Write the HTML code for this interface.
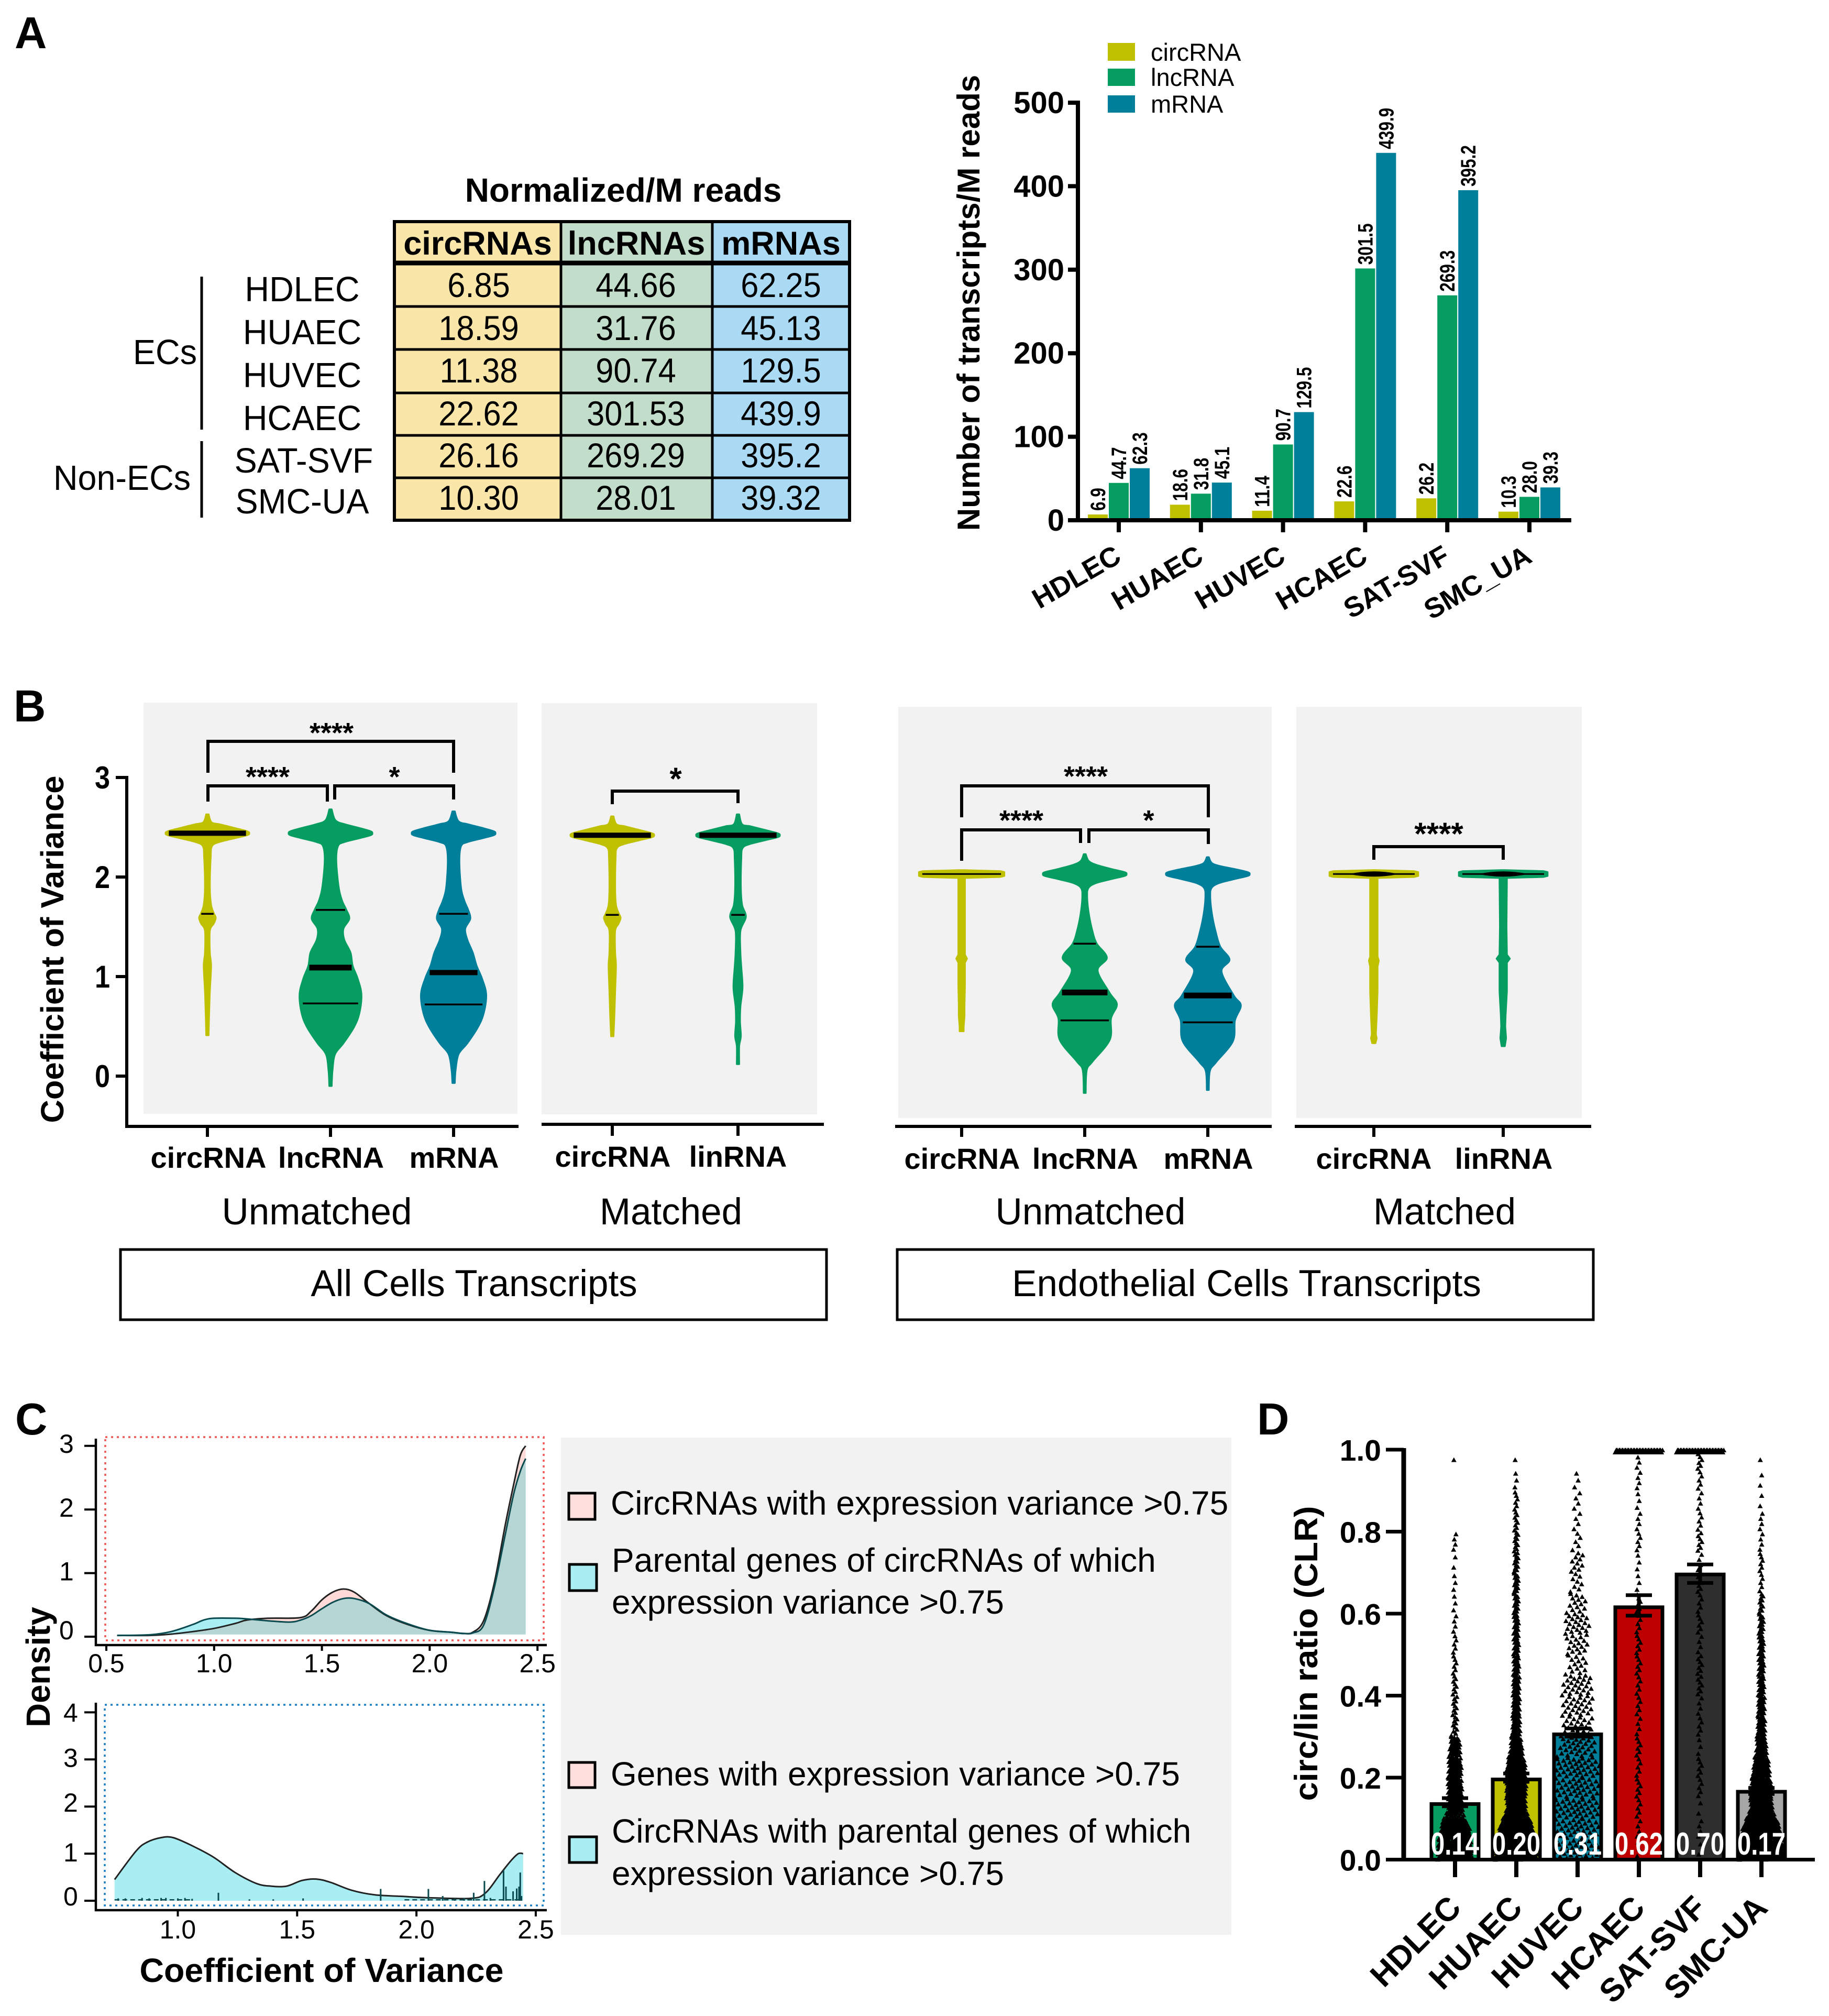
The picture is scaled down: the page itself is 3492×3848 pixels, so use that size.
<!DOCTYPE html>
<html>
<head>
<meta charset="utf-8">
<title>circRNA expression figure</title>
<style>
html,body{margin:0;padding:0;background:#fff;}
svg{display:block;}
text{font-family:"Liberation Sans",Arial,sans-serif;fill:#000;}
.b{font-weight:bold;}
.m{text-anchor:middle;}
.sq{transform-box:fill-box;transform-origin:center;transform:scaleX(.93);}
.sq2{transform-box:fill-box;transform-origin:center;transform:scaleX(.965);}
.v{font-size:66px;}
.l{font-size:67px;}
.h{font-size:63px;font-weight:bold;text-anchor:middle;}
.c{font-size:56px;font-weight:bold;text-anchor:middle;}
.g{font-size:71px;text-anchor:middle;}
.s{font-size:64px;}
.p{font-size:85px;font-weight:bold;}
.star{font-size:54px;font-weight:bold;text-anchor:middle;}
.star2{font-size:60px;font-weight:bold;text-anchor:middle;}
</style>
</head>
<body>
<svg id="fig" xmlns="http://www.w3.org/2000/svg" width="3492" height="3848" viewBox="0 0 3492 3848">
<rect x="0" y="0" width="3492" height="3848" fill="#fff"/>

<text class="p" x="28" y="92">A</text>
<text class="p" x="26" y="1377">B</text>
<text class="p" x="29" y="2738">C</text>
<text class="p" x="2400" y="2738">D</text>

<!-- Panel A table -->
<g>
<text class="b m" x="1190" y="385" font-size="64">Normalized/M reads</text>
<rect x="753" y="423" width="318" height="570" fill="#FAE6A8"/>
<rect x="1071" y="423" width="289" height="570" fill="#C3DDCB"/>
<rect x="1360" y="423" width="262" height="570" fill="#ABDAF4"/>
<path d="M753 585H1622M753 667H1622M753 750H1622M753 831H1622M753 912H1622" stroke="#000" stroke-width="5" fill="none"/>
<path d="M753 502H1622" stroke="#000" stroke-width="9" fill="none"/>
<path d="M1071 423V993M1360 423V993" stroke="#000" stroke-width="5" fill="none"/>
<rect x="753" y="423" width="869" height="570" fill="none" stroke="#000" stroke-width="6"/>
<text class="h" x="912" y="486">circRNAs</text>
<text class="h" x="1215" y="486">lncRNAs</text>
<text class="h" x="1491" y="486">mRNAs</text>

<text class="l m sq2" x="577" y="575">HDLEC</text>
<text class="l m sq2" x="577" y="657">HUAEC</text>
<text class="l m sq2" x="577" y="739">HUVEC</text>
<text class="l m sq2" x="577" y="821">HCAEC</text>
<text class="l m sq2" x="580" y="902">SAT-SVF</text>
<text class="l m sq2" x="577" y="980">SMC-UA</text>
<text class="l m sq2" x="315" y="695">ECs</text>
<text class="l m sq2" x="233" y="935">Non-ECs</text>
<path d="M385 528V820M385 842V988" stroke="#000" stroke-width="5" fill="none"/>

<text class="v m sq" x="914" y="567">6.85</text>
<text class="v m sq" x="1214" y="567">44.66</text>
<text class="v m sq" x="1491" y="567">62.25</text>
<text class="v m sq" x="914" y="649">18.59</text>
<text class="v m sq" x="1214" y="649">31.76</text>
<text class="v m sq" x="1491" y="649">45.13</text>
<text class="v m sq" x="914" y="730">11.38</text>
<text class="v m sq" x="1214" y="730">90.74</text>
<text class="v m sq" x="1491" y="730">129.5</text>
<text class="v m sq" x="914" y="812">22.62</text>
<text class="v m sq" x="1214" y="812">301.53</text>
<text class="v m sq" x="1491" y="812">439.9</text>
<text class="v m sq" x="914" y="892">26.16</text>
<text class="v m sq" x="1214" y="892">269.29</text>
<text class="v m sq" x="1491" y="892">395.2</text>
<text class="v m sq" x="914" y="973">10.30</text>
<text class="v m sq" x="1214" y="973">28.01</text>
<text class="v m sq" x="1491" y="973">39.32</text>
</g>

<!-- Panel A chart static -->
<g>
<rect x="2115" y="82" width="52" height="34" fill="#BFC000"/>
<rect x="2115" y="131" width="52" height="33" fill="#069D60"/>
<rect x="2115" y="182" width="52" height="33" fill="#007F9B"/>
<text x="2197" y="116" font-size="47">circRNA</text>
<text x="2197" y="164" font-size="47">lncRNA</text>
<text x="2197" y="215" font-size="47">mRNA</text>
</g>
<text class="b m" transform="translate(1870,578) rotate(-90)" font-size="60">Number of transcripts/M reads</text>

<!-- Panel B static -->
<rect x="274" y="1341" width="714" height="785" fill="#F2F2F2"/>
<rect x="1034" y="1342" width="526" height="785" fill="#F2F2F2"/>
<rect x="1715" y="1349" width="713" height="785" fill="#F2F2F2"/>
<rect x="2475" y="1349" width="545" height="785" fill="#F2F2F2"/>

<text class="b m" transform="translate(121,1812) rotate(-90)" font-size="61.5">Coefficient of Variance</text>

<g id="bracket-layer" fill="none" stroke="#000" stroke-width="6">
<path d="M397 1475V1415H866V1475"/>
<path d="M397 1530V1500H625V1530"/>
<path d="M639 1526V1500H866V1526"/>
<path d="M1169 1535V1510H1409V1533"/>
<path d="M1836 1560V1500H2307V1560"/>
<path d="M1836 1643V1584H2063V1609"/>
<path d="M2079 1609V1584H2307V1611"/>
<path d="M2623 1641V1616H2870V1641"/>
</g>
<text class="star" x="633" y="1417">****</text>
<text class="star" x="511" y="1501">****</text>
<text class="star" x="753" y="1501">*</text>
<text class="star2" x="1290" y="1507">*</text>
<text class="star" x="2073" y="1500">****</text>
<text class="star" x="1950" y="1584">****</text>
<text class="star" x="2193" y="1584">*</text>
<text class="star2" x="2747" y="1612">****</text>

<text class="c" x="398" y="2229">circRNA</text>
<text class="c" x="632" y="2229">lncRNA</text>
<text class="c" x="867" y="2229">mRNA</text>
<text class="c" x="1170" y="2227">circRNA</text>
<text class="c" x="1409" y="2227">linRNA</text>
<text class="c" x="1837" y="2231">circRNA</text>
<text class="c" x="2072" y="2231">lncRNA</text>
<text class="c" x="2307" y="2231">mRNA</text>
<text class="c" x="2623" y="2231">circRNA</text>
<text class="c" x="2871" y="2231">linRNA</text>

<text class="g" x="605" y="2337">Unmatched</text>
<text class="g" x="1281" y="2337">Matched</text>
<text class="g" x="2082" y="2337">Unmatched</text>
<text class="g" x="2758" y="2337">Matched</text>

<rect x="230" y="2385" width="1348" height="134" fill="none" stroke="#000" stroke-width="5"/>
<text class="g" x="905" y="2474">All Cells Transcripts</text>
<rect x="1713" y="2385" width="1329" height="134" fill="none" stroke="#000" stroke-width="5"/>
<text class="g" x="2380" y="2474">Endothelial Cells Transcripts</text>

<!-- Panel C legend -->
<rect x="1071" y="2744" width="1280" height="949" fill="#F2F2F2"/>
<rect x="1086" y="2850" width="50" height="50" fill="#FFDFDC" stroke="#000" stroke-width="5"/>
<rect x="1087" y="2986" width="52" height="50" fill="#A8EEF2" stroke="#000" stroke-width="5"/>
<rect x="1086" y="3364" width="50" height="48" fill="#FFDFDC" stroke="#000" stroke-width="5"/>
<rect x="1087" y="3506" width="52" height="49" fill="#A8EEF2" stroke="#000" stroke-width="5"/>
<text class="s" x="1166" y="2891">CircRNAs with expression variance &gt;0.75</text>
<text class="s" x="1168" y="3000">Parental genes of circRNAs of which</text>
<text class="s" x="1168" y="3080">expression variance &gt;0.75</text>
<text class="s" x="1166" y="3408">Genes with expression variance &gt;0.75</text>
<text class="s" x="1168" y="3517">CircRNAs with parental genes of which</text>
<text class="s" x="1168" y="3598">expression variance &gt;0.75</text>

<text class="b m" transform="translate(95,3182) rotate(-90)" font-size="63.6">Density</text>
<text class="b m" x="614" y="3783" font-size="64" textLength="695" lengthAdjust="spacingAndGlyphs">Coefficient of Variance</text>
<rect x="201" y="2743" width="837" height="388" fill="none" stroke="#F55555" stroke-width="3.5" stroke-dasharray="4 7"/>
<rect x="200" y="3254" width="838" height="383" fill="none" stroke="#1B7FC4" stroke-width="3.5" stroke-dasharray="4 7"/>

<text class="b m" transform="translate(2515,3156) rotate(-90)" font-size="62" textLength="563" lengthAdjust="spacingAndGlyphs">circ/lin ratio (CLR)</text>

<g id="marks"></g>
</svg>

<script>
/* ---------- Panel A: grouped bars ---------- */
const barCategories = ["HDLEC","HUAEC","HUVEC","HCAEC","SAT-SVF","SMC_UA"];
const barCirc = [6.9,18.6,11.4,22.6,26.2,10.3];
const barLnc = [44.7,31.8,90.7,301.5,269.3,28.0];
const barMrna = [62.3,45.1,129.5,439.9,395.2,39.3];
const barTicks = [0,100,200,300,400,500];

/* ---------- Panel B: violins (CV level, relative density) ---------- */
const cvTicks = [0,1,2,3];
const levelsAllCirc = [2.63,2.55,2.53,2.49,2.46,2.44,2.42,2.39,2.35,2.31,2.2,1.89,1.72,1.64,1.59,1.53,1.46,1.24,1.11,0.85,0.59,0.41];
const densityAllCirc = [0.03,0.1,0.3,0.68,0.95,1,0.95,0.66,0.28,0.11,0.08,0.06,0.09,0.15,0.2,0.15,0.06,0.06,0.09,0.06,0.04,0.03];
const quartilesAllCirc = [1.63,2.44];
const levelsAllLnc = [2.68,2.57,2.53,2.49,2.46,2.44,2.42,2.39,2.35,2.31,2.16,1.89,1.76,1.67,1.58,1.48,1.37,1.24,1.11,0.98,0.82,0.63,0.49,0.33,0.22,0.06,-0.1];
const densityAllLnc = [0.03,0.12,0.35,0.72,0.96,1,0.96,0.7,0.33,0.18,0.14,0.2,0.28,0.38,0.45,0.31,0.33,0.48,0.53,0.65,0.74,0.69,0.56,0.31,0.11,0.05,0.03];
const quartilesAllLnc = [1.67,1.09,0.73];
const levelsAllM = [2.66,2.56,2.53,2.49,2.46,2.44,2.42,2.39,2.35,2.31,2.16,1.89,1.76,1.67,1.58,1.48,1.37,1.24,1.11,0.98,0.82,0.63,0.49,0.33,0.22,0.06,-0.07];
const densityAllM = [0.03,0.12,0.35,0.72,0.96,1,0.96,0.7,0.33,0.18,0.14,0.18,0.26,0.35,0.4,0.28,0.33,0.46,0.55,0.68,0.78,0.72,0.58,0.33,0.12,0.05,0.03];
const quartilesAllM = [1.63,1.04,0.72];
const levelsMatchedCirc = [2.61,2.53,2.51,2.47,2.44,2.42,2.4,2.37,2.33,2.29,2.18,1.89,1.72,1.64,1.59,1.53,1.46,1.24,1.11,0.85,0.59,0.4];
const densityMatchedCirc = [0.03,0.1,0.3,0.68,0.95,1,0.95,0.66,0.28,0.11,0.08,0.07,0.09,0.15,0.2,0.15,0.07,0.07,0.09,0.07,0.05,0.03];
const quartilesMatchedCirc = [1.62,2.42];
const levelsMatchedLin = [2.63,2.53,2.51,2.47,2.44,2.42,2.4,2.37,2.33,2.29,2.18,1.89,1.72,1.6,1.46,1.24,1.1,0.89,0.7,0.55,0.4,0.3,0.12];
const densityMatchedLin = [0.03,0.1,0.3,0.68,0.95,1,0.95,0.66,0.28,0.11,0.08,0.07,0.1,0.19,0.06,0.06,0.08,0.11,0.06,0.05,0.07,0.03,0.03];
const quartilesMatchedLin = [1.62,2.42];
const levelsEcCirc = [2.07,2.06,2.05,2.01,2.0,1.99,1.5,1.22,1.18,1.14,0.9,0.7,0.6,0.5,0.45];
const densityEcCirc = [0.05,0.92,1.02,1.02,0.92,0.08,0.08,0.08,0.13,0.08,0.08,0.07,0.07,0.05,0.05];
const quartilesEcCirc = [2.03];
const levelsEcLnc = [2.23,2.16,2.12,2.08,2.05,2.03,2.01,1.98,1.94,1.89,1.8,1.63,1.45,1.33,1.19,1.06,0.84,0.72,0.58,0.365,0.147,0.06,-0.17];
const densityEcLnc = [0.025,0.1,0.3,0.65,0.95,1,0.95,0.65,0.28,0.09,0.06,0.1,0.19,0.29,0.53,0.31,0.59,0.77,0.63,0.6,0.19,0.05,0.025];
const quartilesEcLnc = [1.33,0.84,0.56];
const levelsEcM = [2.2,2.14,2.11,2.08,2.05,2.03,2.01,1.98,1.94,1.89,1.8,1.63,1.45,1.3,1.17,1.05,0.81,0.71,0.56,0.35,0.14,0.05,-0.14];
const densityEcM = [0.025,0.1,0.3,0.65,0.95,1,0.95,0.65,0.28,0.09,0.06,0.1,0.19,0.3,0.52,0.33,0.62,0.79,0.65,0.6,0.2,0.05,0.025];
const quartilesEcM = [1.3,0.81,0.54];
const levelsEcMatchedCirc = [2.07,2.06,2.05,2.01,2.0,1.99,1.5,1.2,1.16,1.1,0.85,0.6,0.42,0.38,0.33];
const densityEcMatchedCirc = [0.05,0.96,1.06,1.06,0.96,0.09,0.09,0.09,0.12,0.09,0.09,0.07,0.05,0.07,0.04];
const quartilesEcMatchedCirc = [2.03];
const levelsEcMatchedLin = [2.07,2.06,2.05,2.01,2.0,1.99,1.5,1.22,1.18,1.14,0.85,0.62,0.5,0.38,0.3];
const densityEcMatchedLin = [0.05,0.96,1.06,1.06,0.96,0.09,0.08,0.09,0.16,0.09,0.09,0.06,0.05,0.07,0.04];
const quartilesEcMatchedLin = [2.03];

/* ---------- Panel C: densities ---------- */
const densTopXTicks = ["0.5","1.0","1.5","2.0","2.5"];
const densTopYTicks = [0,1,2,3];
const densBottomXTicks = ["1.0","1.5","2.0","2.5"];
const densBottomYTicks = [0,1,2,3,4];
const cvPink = [0.55,0.7,0.8,0.9,1.0,1.1,1.15,1.25,1.4,1.45,1.5,1.55,1.6,1.65,1.72,1.8,1.9,2.0,2.1,2.16,2.2,2.25,2.3,2.35,2.39,2.42,2.445];
const densPink = [0.02,0.02,0.04,0.08,0.13,0.21,0.26,0.29,0.30,0.40,0.58,0.70,0.75,0.70,0.52,0.33,0.19,0.1,0.07,0.05,0.07,0.25,0.85,1.75,2.4,2.85,3.0];
const cvCyan = [0.55,0.7,0.8,0.9,0.95,1.0,1.1,1.15,1.25,1.35,1.4,1.45,1.5,1.55,1.6,1.65,1.72,1.8,1.9,2.0,2.1,2.16,2.2,2.25,2.3,2.35,2.39,2.42,2.445];
const densCyan = [0.02,0.03,0.08,0.19,0.26,0.29,0.29,0.28,0.25,0.23,0.26,0.33,0.44,0.54,0.6,0.6,0.52,0.34,0.2,0.1,0.07,0.05,0.06,0.18,0.78,1.6,2.25,2.6,2.8];
const cvBottom = [0.735,0.824,0.87,0.93,0.98,1.055,1.148,1.24,1.33,1.39,1.456,1.52,1.58,1.64,1.73,1.826,1.95,2.04,2.226,2.288,2.35,2.396,2.427,2.447];
const densBottom = [0.45,1.05,1.24,1.34,1.34,1.18,0.93,0.6,0.365,0.31,0.31,0.43,0.46,0.39,0.22,0.125,0.09,0.066,0.05,0.16,0.56,0.85,1.0,1.0];
const spikeCv = [0.75,0.78,0.85,0.88,0.93,0.95,1.0,1.03,1.06,1.17,1.3,1.4,1.525,1.85,2.05,2.11,2.16,2.2,2.24,2.285,2.31,2.365,2.375,2.405,2.42,2.43,2.435,2.44];
const spikeDens = [0.05,0.05,0.06,0.05,0.06,0.06,0.05,0.06,0.04,0.17,0.03,0.03,0.05,0.25,0.25,0.1,0.05,0.06,0.17,0.42,0.06,0.65,0.3,0.2,0.26,0.3,0.6,0.1];

/* ---------- Panel D: bars with swarm ---------- */
const ratioCategories = ["HDLEC","HUAEC","HUVEC","HCAEC","SAT-SVF","SMC-UA"];
const ratioMeans = [0.14,0.20,0.31,0.62,0.70,0.17];
const ratioErrLow = [0.13,0.19,0.30,0.595,0.675,0.16];
const ratioErrHigh = [0.15,0.21,0.32,0.645,0.72,0.175];
const ratioTicks = ["0.0","0.2","0.4","0.6","0.8","1.0"];
/* dot counts in 0.05-wide bins from 0 to 1 */
const dotsHdlec = [130,110,50,50,45,35,10,9,8,6,5,4,3,3,2,4,0,0,0,1];
const dotsHuaec = [210,170,90,95,90,50,30,26,24,20,18,16,14,14,12,10,8,6,3,1];
const dotsHuvec = [36,36,38,36,38,30,24,25,25,14,17,21,14,8,10,5,4,4,3,0];
const dotsHcaec = [3,4,5,6,5,6,4,5,5,6,6,5,6,3,3,5,4,3,4,4];
const dotsSatSvf = [2,4,2,5,6,3,5,4,7,7,4,6,5,7,4,7,5,4,5,7];
const dotsSmcUa = [210,180,100,95,70,40,28,24,20,18,16,14,10,5,6,4,4,2,2,1];
const dotsAtOne = [0,0,0,50,50,0];

const NS = "http://www.w3.org/2000/svg";
const root = document.getElementById("marks");
function mk(tag, attrs, text){
  const e = document.createElementNS(NS, tag);
  for (const k in attrs) e.setAttribute(k, attrs[k]);
  if (text !== undefined) e.textContent = text;
  root.appendChild(e);
  return e;
}
function r1(n){ return Math.round(n*10)/10; }
const COL = {circ:"#BFC000", lnc:"#069D60", m:"#007F9B"};
/* Catmull-Rom through screen points; first point uses given command */
function smoothThrough(pts, cmd){
  let d = cmd+r1(pts[0][0])+" "+r1(pts[0][1]);
  for (let i=0;i<pts.length-1;i++){
    const p0=pts[Math.max(0,i-1)], p1=pts[i], p2=pts[i+1], p3=pts[Math.min(pts.length-1,i+2)];
    d+="C"+r1(p1[0]+(p2[0]-p0[0])/6)+" "+r1(p1[1]+(p2[1]-p0[1])/6)+" "+r1(p2[0]-(p3[0]-p1[0])/6)+" "+r1(p2[1]-(p3[1]-p1[1])/6)+" "+r1(p2[0])+" "+r1(p2[1]);
  }
  return d;
}

/* ===== Panel A ===== */
function xA(i){ return 2136 + 156.8*i; }
function yA(v){ return 993 - v*1.594; }
const barSeries = [[barCirc,COL.circ,-40,"circrna"],[barLnc,COL.lnc,0,"lncrna"],[barMrna,COL.m,40,"mrna"]];
barSeries.forEach(function(s){
  s[0].forEach(function(v,i){
    const cx = xA(i)+s[2];
    const bar = mk("rect",{x:cx-19,y:yA(v),width:38,height:yA(0)-yA(v),fill:s[1]});
    
    
    const lab = mk("text",{transform:"translate("+(cx+14)+","+(yA(v)-7)+") rotate(-90) scale(.79,1)","font-size":40,"font-weight":"bold"},v.toFixed(1));
    
    
  });
});
const axisA = mk("path",{d:"M2058 "+(yA(500)-4)+"V"+yA(0)+"M2039 "+yA(0)+"H3000",stroke:"#000","stroke-width":8,fill:"none"});


barTicks.forEach(function(t){
  const tk = mk("path",{d:"M2039 "+yA(t)+"H2058",stroke:"#000","stroke-width":8});
  
  
  const lb = mk("text",{x:2032,y:yA(t)+20,"text-anchor":"end","font-size":58,"font-weight":"bold"},String(t));
  
  
});
barCategories.forEach(function(c,i){
  const tk = mk("path",{d:"M"+xA(i)+" "+yA(0)+"V1016",stroke:"#000","stroke-width":8});
  
  
  const lb = mk("text",{transform:"translate("+(xA(i)+8)+",1071) rotate(-30)","text-anchor":"end","font-size":53.5,"font-weight":"bold"},c);
  
  
});

/* ===== Panel B ===== */
function yB(v){ return 2054 - v*190; }
const VW = 80;
function densAt(levels,density,v){
  for (let i=0;i<levels.length-1;i++){
    if (v<=levels[i] && v>=levels[i+1]){
      const t=(levels[i]-v)/(levels[i]-levels[i+1]);
      return density[i]+(density[i+1]-density[i])*t;
    }
  }
  return 0;
}
function violin(cx,levels,density,quartiles,color,name,medianThick,lens){
  const right=levels.map(function(v,i){ return [cx+density[i]*VW,yB(v)]; });
  const left=levels.map(function(v,i){ return [cx-density[i]*VW,yB(v)]; }).reverse();
  let d;
  if (lens || medianThick[0]===3){
    d="";
    right.forEach(function(p,i){ d+=(i?"L":"M")+r1(p[0])+" "+r1(p[1]); });
    left.forEach(function(p){ d+="L"+r1(p[0])+" "+r1(p[1]); });
  } else {
    d=smoothThrough(right,"M")+smoothThrough(left,"L");
  }
  const shape = mk("path",{d:d+"Z",fill:color,stroke:color,"stroke-width":3,"stroke-linejoin":"round"});
  
  
  quartiles.forEach(function(q,i){
    const hw = densAt(levels,density,q)*VW*0.92;
    const main = q===quartiles[medianThick[1]];
    const ln = mk("path",{d:"M"+r1(cx-hw)+" "+yB(q)+"H"+r1(cx+hw),stroke:"#000","stroke-width":main?medianThick[0]:3.5,fill:"none"});
    
    
  });
  if (lens){
    const y=yB(quartiles[0]);
    const el = mk("path",{d:"M"+(cx-48)+" "+y+"Q"+cx+" "+(y-10)+" "+(cx+48)+" "+y+"Q"+cx+" "+(y+10)+" "+(cx-48)+" "+y+"Z",fill:"#000"});
    
    
  }
}
violin(396,levelsAllCirc,densityAllCirc,quartilesAllCirc,COL.circ,"all-circrna",[10,1]);
violin(631,levelsAllLnc,densityAllLnc,quartilesAllLnc,COL.lnc,"all-lncrna",[11,1]);
violin(866,levelsAllM,densityAllM,quartilesAllM,COL.m,"all-mrna",[10,1]);
violin(1169,levelsMatchedCirc,densityMatchedCirc,quartilesMatchedCirc,COL.circ,"matched-circrna",[10,1]);
violin(1409,levelsMatchedLin,densityMatchedLin,quartilesMatchedLin,COL.lnc,"matched-linrna",[10,1]);
violin(1836,levelsEcCirc,densityEcCirc,quartilesEcCirc,COL.circ,"ec-circrna",[3,0]);
violin(2071,levelsEcLnc,densityEcLnc,quartilesEcLnc,COL.lnc,"ec-lncrna",[11,1]);
violin(2306,levelsEcM,densityEcM,quartilesEcM,COL.m,"ec-mrna",[11,1]);
violin(2623,levelsEcMatchedCirc,densityEcMatchedCirc,quartilesEcMatchedCirc,COL.circ,"ec-matched-circrna",[3,0],true);
violin(2870,levelsEcMatchedLin,densityEcMatchedLin,quartilesEcMatchedLin,COL.lnc,"ec-matched-linrna",[3,0],true);

const axisB = mk("path",{d:"M242 "+(yB(3)-3)+"V2150H990M1034 2146H1573M1709 2150H2428M2472 2150H3038M396 2150V2170M631 2150V2170M866 2150V2170M1169 2146V2168M1409 2146V2168M1836 2150V2170M2071 2150V2170M2306 2150V2170M2623 2150V2170M2870 2150V2170",stroke:"#000","stroke-width":6,fill:"none"});


cvTicks.forEach(function(t){
  const tk = mk("path",{d:"M221 "+yB(t)+"H242",stroke:"#000","stroke-width":6});
  
  
  const lb = mk("text",{transform:"translate(210,"+(yB(t)+21)+") scale(.87,1)","text-anchor":"end","font-size":60,"font-weight":"bold"},String(t));
  
  
});

/* ===== Panel C ===== */
function xC1(v){ return 203 + (v-0.5)*411.6; }
function yC1(d){ return 3124 - d*121.4; }
function xC2(v){ return 339.5 + (v-1)*455.6; }
function yC2(d){ return 3628 - d*89.9; }
function linePath(xs,ys,fx,fy){
  return smoothThrough(xs.map(function(v,i){ return [fx(v),fy(ys[i])]; }),"M");
}
function areaPath(xs,ys,fx,fy,base){
  return linePath(xs,ys,fx,fy)+"L"+r1(fx(xs[xs.length-1]))+" "+r1(fy(base))+"L"+r1(fx(xs[0]))+" "+r1(fy(base))+"Z";
}
const cp = document.createElementNS(NS,"clipPath");
cp.setAttribute("id","pinkClip");
const cpP = document.createElementNS(NS,"path");
cpP.setAttribute("d",areaPath(cvPink,densPink,xC1,yC1,0.035));
cp.appendChild(cpP);
root.appendChild(cp);
const areaPinkEl = mk("path",{d:areaPath(cvPink,densPink,xC1,yC1,0.035),fill:"#FFDAD6"});


const areaCyanEl = mk("path",{d:areaPath(cvCyan,densCyan,xC1,yC1,0.035),fill:"#A8EEF2"});


const overlapEl = mk("path",{d:areaPath(cvCyan,densCyan,xC1,yC1,0.035),fill:"#B5D6D4","clip-path":"url(#pinkClip)"});


const linePinkEl = mk("path",{d:linePath(cvPink,densPink,xC1,yC1),fill:"none",stroke:"#222","stroke-width":3});


const lineCyanEl = mk("path",{d:linePath(cvCyan,densCyan,xC1,yC1),fill:"none",stroke:"#0B4A4F","stroke-width":3});



const areaBottomEl = mk("path",{d:areaPath(cvBottom,densBottom,xC2,yC2,0),fill:"#A8EEF2"});


const lineBottomEl = mk("path",{d:linePath(cvBottom,densBottom,xC2,yC2),fill:"none",stroke:"#222","stroke-width":3});


let spikeD="";
spikeCv.forEach(function(v,i){ spikeD+="M"+r1(xC2(v))+" "+yC2(0)+"V"+r1(yC2(spikeDens[i])); });
const spikesEl = mk("path",{d:spikeD,fill:"none",stroke:"#0B4A4F","stroke-width":3});


const rugEl = mk("path",{d:"M"+xC2(0.735)+" "+yC2(0.02)+"H"+xC2(1.06)+"M"+xC2(1.95)+" "+yC2(0.02)+"H"+xC2(2.44),fill:"none",stroke:"#0B4A4F","stroke-width":2.5,"stroke-dasharray":"9 6"});



const axisC = mk("path",{d:"M183 2746V3140H1044M183 3250V3646H1044",stroke:"#000","stroke-width":4.5,fill:"none"});


densTopYTicks.forEach(function(t){
  const tk = mk("path",{d:"M161 "+yC1(t)+"H183",stroke:"#000","stroke-width":4});
  
  
  const lb = mk("text",{x:113,y:yC1(t)+(t===0?5:t===3?13:14),"font-size":50},String(t));
  
  
});
densTopXTicks.forEach(function(t){
  const v=parseFloat(t);
  const tk = mk("path",{d:"M"+xC1(v)+" 3140V3151",stroke:"#000","stroke-width":4});
  
  
  const lb = mk("text",{x:xC1(v),y:3192,"font-size":50,"text-anchor":"middle"},t);
  
  
});
densBottomYTicks.forEach(function(t){
  const tk = mk("path",{d:"M161 "+yC2(t)+"H183",stroke:"#000","stroke-width":4});
  
  
  const lb = mk("text",{x:121,y:yC2(t)+(t===0?9:t===1?15:t===2?10:t===3?14:18),"font-size":50},String(t));
  
  
});
densBottomXTicks.forEach(function(t){
  const v=parseFloat(t);
  const tk = mk("path",{d:"M"+xC2(v)+" 3646V3658",stroke:"#000","stroke-width":4});
  
  
  const lb = mk("text",{x:xC2(v),y:3700,"font-size":50,"text-anchor":"middle"},t);
  
  
});

/* ===== Panel D ===== */
function xD(i){ return 2778 + 117*i; }
function yD(v){ return 3549.5 - v*782.5; }
const ratioColors = ["#069D60","#BFC000","#007F9B","#BE0000","#2E2E2E","#A6A6A6"];
const ratioDots = [dotsHdlec,dotsHuaec,dotsHuvec,dotsHcaec,dotsSatSvf,dotsSmcUa];
const swarmSpread = [0.24,0.18,1.1,0.4,0.4,0.19];
ratioMeans.forEach(function(m,i){
  const bar = mk("rect",{x:xD(i)-45,y:yD(m)+3.5,width:90,height:yD(0)-yD(m)-3.5,fill:ratioColors[i],stroke:"#000","stroke-width":7});
  
  
});
ratioDots.forEach(function(counts,i){
  let d="";
  function halfWidth(n){ return Math.min(44,2+n*swarmSpread[i]); }
  counts.forEach(function(n,b){
    for (let k=0;k<n;k++){
      const t=(k+0.5)/n;
      const v=(b+t)*0.05;
      const p=Math.max(0,Math.min(counts.length-1,b+t-0.5));
      const a=Math.floor(p), c=Math.min(counts.length-1,a+1), f=p-a;
      const hw=halfWidth(counts[a])*(1-f)+halfWidth(counts[c])*f;
      const u=((k*0.618034)%1-0.5)*2;
      const off=Math.sign(u)*Math.pow(Math.abs(u),1.1)*hw;
      d+="M"+r1(xD(i)+off)+" "+r1(yD(v)-5)+"l5 9h-10z";
    }
  });
  for (let k=0;k<dotsAtOne[i];k++){
    const off=((k+0.5)/dotsAtOne[i]-0.5)*2*46;
    d+="M"+r1(xD(i)+off)+" "+r1(yD(1)-4+(k%3===0?4:0))+"l5 9h-10z";
  }
  const sw = mk("path",{d:d,fill:"#000"});
  
  
});
ratioMeans.forEach(function(m,i){
  const lo=yD(ratioErrLow[i]), hi=yD(ratioErrHigh[i]), c=xD(i);
  const eb = mk("path",{d:"M"+(c-25)+" "+lo+"H"+(c+25)+"M"+(c-25)+" "+hi+"H"+(c+25)+"M"+c+" "+lo+"V"+hi,stroke:"#000","stroke-width":7,fill:"none"});
  
  
});
const axisD = mk("path",{d:"M2680 2764V3549.5",stroke:"#000","stroke-width":9,fill:"none"});


const axisDx = mk("path",{d:"M2646 3549.5H3465",stroke:"#000","stroke-width":7,fill:"none"});


ratioTicks.forEach(function(t){
  const v=parseFloat(t);
  const tk = mk("path",{d:"M2646 "+yD(v)+"H2680",stroke:"#000","stroke-width":7});
  
  
  const lb = mk("text",{x:2637,y:yD(v)+21,"text-anchor":"end","font-size":57,"font-weight":"bold"},t);
  
  
});
ratioCategories.forEach(function(c,i){
  const tk = mk("path",{d:"M"+xD(i)+" 3549.5V3583",stroke:"#000","stroke-width":8});
  
  
  const lb = mk("text",{transform:"translate("+(xD(i)+15)+",3645) rotate(-45)","text-anchor":"end","font-size":62,"font-weight":"bold"},c);
  
  
  const vl = mk("text",{transform:"translate("+xD(i)+",3540) scale(.79,1)","text-anchor":"middle","font-size":60,"font-weight":"bold",style:"fill:#fff"},ratioMeans[i].toFixed(2));
  
  
});
</script>
</body>
</html>
